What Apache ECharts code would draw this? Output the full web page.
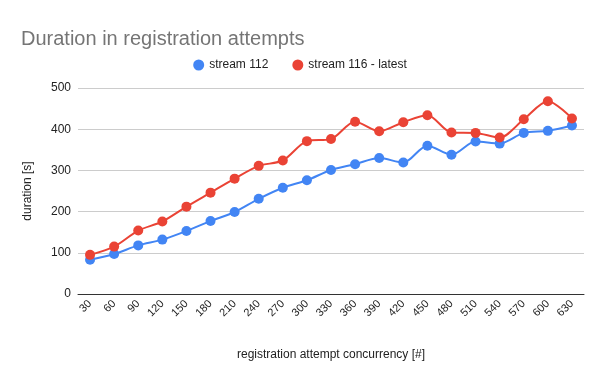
<!DOCTYPE html>
<html><head><meta charset="utf-8">
<script src="https://cdn.jsdelivr.net/npm/echarts@6/dist/echarts.min.js"></script>
<style>html,body{margin:0;padding:0;background:#fff}#c{width:600px;height:371px}</style>
</head><body><div id="c"></div>
<script>
var categories = ['30','60','90','120','150','180','210','240','270','300','330','360','390','420','450','480','510','540','570','600','630'];
var stream112 = [83,97,118,132,153,177,199,231,258,276,301,315,330,319,360,338,370,365,391,396,409];
var stream116 = [95,115,154,176,212,246,280,311,324,371,376,418,395,417,434,392,391,380,424,468,426];
var yTicks = [0,100,200,300,400,500];

var chart = echarts.init(document.getElementById('c'));
chart.setOption({
  animation:false,
  backgroundColor:'#fff',
  textStyle:{fontFamily:'Arial, "Liberation Sans", sans-serif'},
  title:{text:'Duration in registration attempts',left:16,top:24,
    textStyle:{fontSize:20,fontWeight:'normal',color:'#757575',fontFamily:'Arial, "Liberation Sans", sans-serif'}},
  legend:{top:54,left:'center',itemWidth:11,itemHeight:11,itemGap:24,icon:'circle',
    textStyle:{fontSize:12,color:'#222'},
    data:['stream 112','stream 116 - latest']},
  grid:{left:78,right:16,top:88,bottom:77},
  xAxis:{type:'category',data:categories,boundaryGap:true,
    name:'registration attempt concurrency [#]',nameLocation:'middle',nameGap:55,
    nameTextStyle:{fontSize:12,color:'#222'},
    axisLine:{lineStyle:{color:'#333',width:1}},
    axisTick:{show:false},
    axisLabel:{rotate:45,fontSize:11,color:'#222',interval:0,margin:8}},
  yAxis:{type:'value',min:yTicks[0],max:yTicks[yTicks.length-1],interval:100,
    name:'duration [s]',nameLocation:'middle',nameGap:44,
    nameTextStyle:{fontSize:12,color:'#222'},
    axisLine:{show:false},axisTick:{show:false},
    axisLabel:{fontSize:12,color:'#222',margin:7},
    splitLine:{lineStyle:{color:'#cccccc',width:1}}},
  series:[
    {name:'stream 112',type:'line',data:stream112,smooth:0.3,symbol:'circle',symbolSize:10,
     itemStyle:{color:'#4285F4'},lineStyle:{width:2,color:'#4285F4'}},
    {name:'stream 116 - latest',type:'line',data:stream116,smooth:0.3,symbol:'circle',symbolSize:10,
     itemStyle:{color:'#EA4335'},lineStyle:{width:2,color:'#EA4335'}}
  ]
});
</script></body></html>
